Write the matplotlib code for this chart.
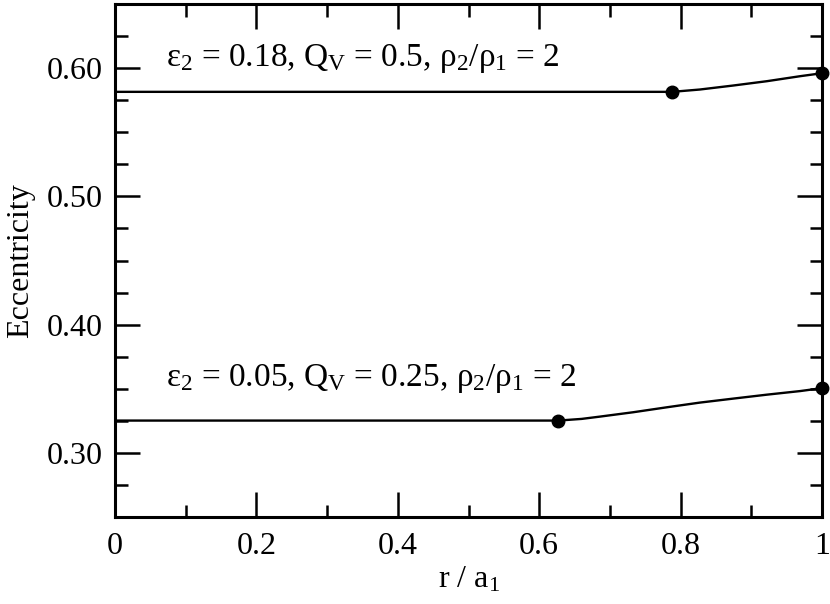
import numpy as np
import matplotlib.pyplot as plt
from matplotlib.ticker import MultipleLocator

plt.rcParams['font.family'] = ['Liberation Serif', 'DejaVu Serif']
plt.rcParams['mathtext.fontset'] = 'custom'
plt.rcParams['mathtext.rm'] = 'Liberation Serif'
plt.rcParams['mathtext.it'] = 'Liberation Serif:italic'

# ── Data ──────────────────────────────────────────────────────────────────
# upper curve: eps2 = 0.18, Qv = 0.5
r_hi = [0.0, 0.788, 0.827, 0.874, 0.922, 0.969, 0.997, 1.0]
e_hi = [0.5815, 0.5815, 0.5833, 0.5864, 0.5898, 0.5937, 0.5958, 0.5962]
dots_hi_r = [0.788, 1.0]
dots_hi_e = [0.5815, 0.5962]

# lower curve: eps2 = 0.05, Qv = 0.25
r_lo = [0.0, 0.627, 0.66, 0.686, 0.733, 0.781, 0.827, 0.874, 0.922, 0.969, 1.0]
e_lo = [0.3252, 0.3252, 0.3265, 0.3283, 0.3317, 0.3356, 0.3392, 0.3423, 0.3454, 0.3482, 0.3505]
dots_lo_r = [0.627, 1.0]
dots_lo_e = [0.3252, 0.3505]

xticks = [0, 0.2, 0.4, 0.6, 0.8, 1.0]
xticklabels = ['0', '0.2', '0.4', '0.6', '0.8', '1']
yticks = [0.30, 0.40, 0.50, 0.60]
yticklabels = ['0.30', '0.40', '0.50', '0.60']

label_hi = r'ε$_{2}$ = 0.18, Q$_{\rm V}$ = 0.5, ρ$_{2}$/ρ$_{1}$ = 2'
label_lo = r'ε$_{2}$ = 0.05, Q$_{\rm V}$ = 0.25, ρ$_{2}$/ρ$_{1}$ = 2'

# ── Plot ──────────────────────────────────────────────────────────────────
fig = plt.figure(figsize=(8.3, 6.04), dpi=100)
ax = fig.add_axes([0.1386, 0.144, 0.8518, 0.8494])

ax.plot(r_hi, e_hi, color='black', lw=1.7)
ax.plot(r_lo, e_lo, color='black', lw=1.7)
ax.plot(dots_hi_r, dots_hi_e, 'o', color='black', ms=9, clip_on=False)
ax.plot(dots_lo_r, dots_lo_e, 'o', color='black', ms=9, clip_on=False)

ax.text(0.072, 0.6015, label_hi, fontsize=24, va='baseline', ha='left')
ax.text(0.072, 0.352, label_lo, fontsize=24, va='baseline', ha='left')

ax.set_xlim(0, 1)
ax.set_ylim(0.25, 0.65)
ax.set_xticks(xticks)
ax.set_xticklabels(xticklabels)
ax.set_yticks(yticks)
ax.set_yticklabels(yticklabels)
ax.xaxis.set_minor_locator(MultipleLocator(0.1))
ax.yaxis.set_minor_locator(MultipleLocator(0.025))

ax.tick_params(which='both', direction='in', top=True, right=True,
               labelsize=23, width=1.8)
ax.tick_params(axis='x', which='major', length=18, pad=11)
ax.tick_params(axis='y', which='major', length=18, pad=9)
ax.tick_params(which='minor', length=9)
for s in ax.spines.values():
    s.set_linewidth(2.2)

ax.set_xlabel(r'r / a$_{1}$', fontsize=23, labelpad=3)
ax.set_ylabel('Eccentricity', fontsize=23, labelpad=8)

fig.savefig('out.png', dpi=100)
